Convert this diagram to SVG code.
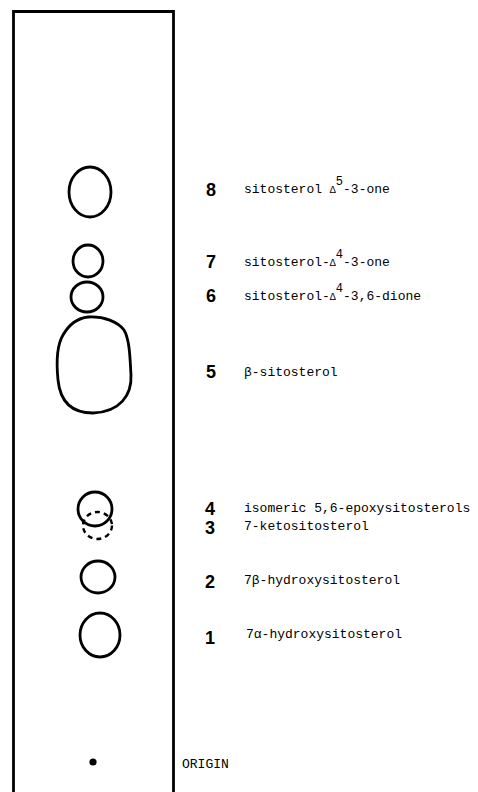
<svg xmlns="http://www.w3.org/2000/svg" width="478" height="792" viewBox="0 0 478 792">
<style>
.spot{fill:none;stroke:#000;stroke-width:2.8}
.dash{fill:none;stroke:#000;stroke-width:2.4;stroke-dasharray:5 4}
.num{font-family:"Liberation Sans",Arial,sans-serif;font-weight:bold;font-size:18px;fill:#000}
.lbl{font-family:"Liberation Mono","DejaVu Sans Mono",monospace;font-size:13px;fill:#000}
.sup{font-size:12px}
.frame{fill:none;stroke:#000;stroke-width:2.8}
</style>
<rect width="478" height="792" fill="#fff"/>
<path class="frame" d="M13.5,792 V11.5 H173.5 V792"/>
<g id="spot8"><ellipse class="spot" cx="90" cy="192" rx="21" ry="25"/></g>
<g id="spot7"><ellipse class="spot" cx="88" cy="261" rx="15" ry="16"/></g>
<g id="spot6"><ellipse class="spot" cx="87" cy="297" rx="16" ry="15"/></g>
<g id="spot5"><path class="spot" d="M88,317 C104,316 118,322 124,330 C130,340 130,360 131,375 C132,395 120,412 93,413 C70,413 60,400 58,380 C56,360 57,345 63,335 C70,323 78,318 88,317 Z"/></g>
<g id="spot4"><ellipse class="spot" cx="95" cy="509" rx="17" ry="17"/></g>
<g id="spot3"><ellipse class="dash" cx="97.5" cy="525.5" rx="14.5" ry="13.5"/></g>
<g id="spot2"><ellipse class="spot" cx="98" cy="577" rx="17" ry="16"/></g>
<g id="spot1"><ellipse class="spot" cx="100" cy="635" rx="20" ry="22"/></g>
<g id="origin"><circle cx="93" cy="762" r="3.6" fill="#000"/></g>
<g id="connectors"></g>
<g id="label8"><text class="num" x="206" y="196">8</text><text class="lbl" x="244" y="193">sitosterol <tspan font-size="10">Δ</tspan><tspan class="sup" dy="-8">5</tspan><tspan dy="8">-3-one</tspan></text></g>
<g id="label7"><text class="num" x="206" y="268">7</text><text class="lbl" x="244" y="266">sitosterol-<tspan font-size="10">Δ</tspan><tspan class="sup" dy="-8">4</tspan><tspan dy="8">-3-one</tspan></text></g>
<g id="label6"><text class="num" x="206" y="302">6</text><text class="lbl" x="244" y="300">sitosterol-<tspan font-size="10">Δ</tspan><tspan class="sup" dy="-8">4</tspan><tspan dy="8">-3,6-dione</tspan></text></g>
<g id="label5"><text class="num" x="206" y="378">5</text><text class="lbl" x="244" y="376">β-sitosterol</text></g>
<g id="label4"><text class="num" x="205" y="515" font-size="17">4</text><text class="lbl" x="244" y="512">isomeric 5,6-epoxysitosterols</text></g>
<g id="label3"><text class="num" x="205" y="534" font-size="17">3</text><text class="lbl" x="244" y="530">7-ketositosterol</text></g>
<g id="label2"><text class="num" x="205" y="588">2</text><text class="lbl" x="244" y="584">7β-hydroxysitosterol</text></g>
<g id="label1"><text class="num" x="205" y="644">1</text><text class="lbl" x="246" y="638">7α-hydroxysitosterol</text></g>
<g id="labelOrigin"><text class="lbl" x="182" y="768">ORIGIN</text></g>
</svg>
